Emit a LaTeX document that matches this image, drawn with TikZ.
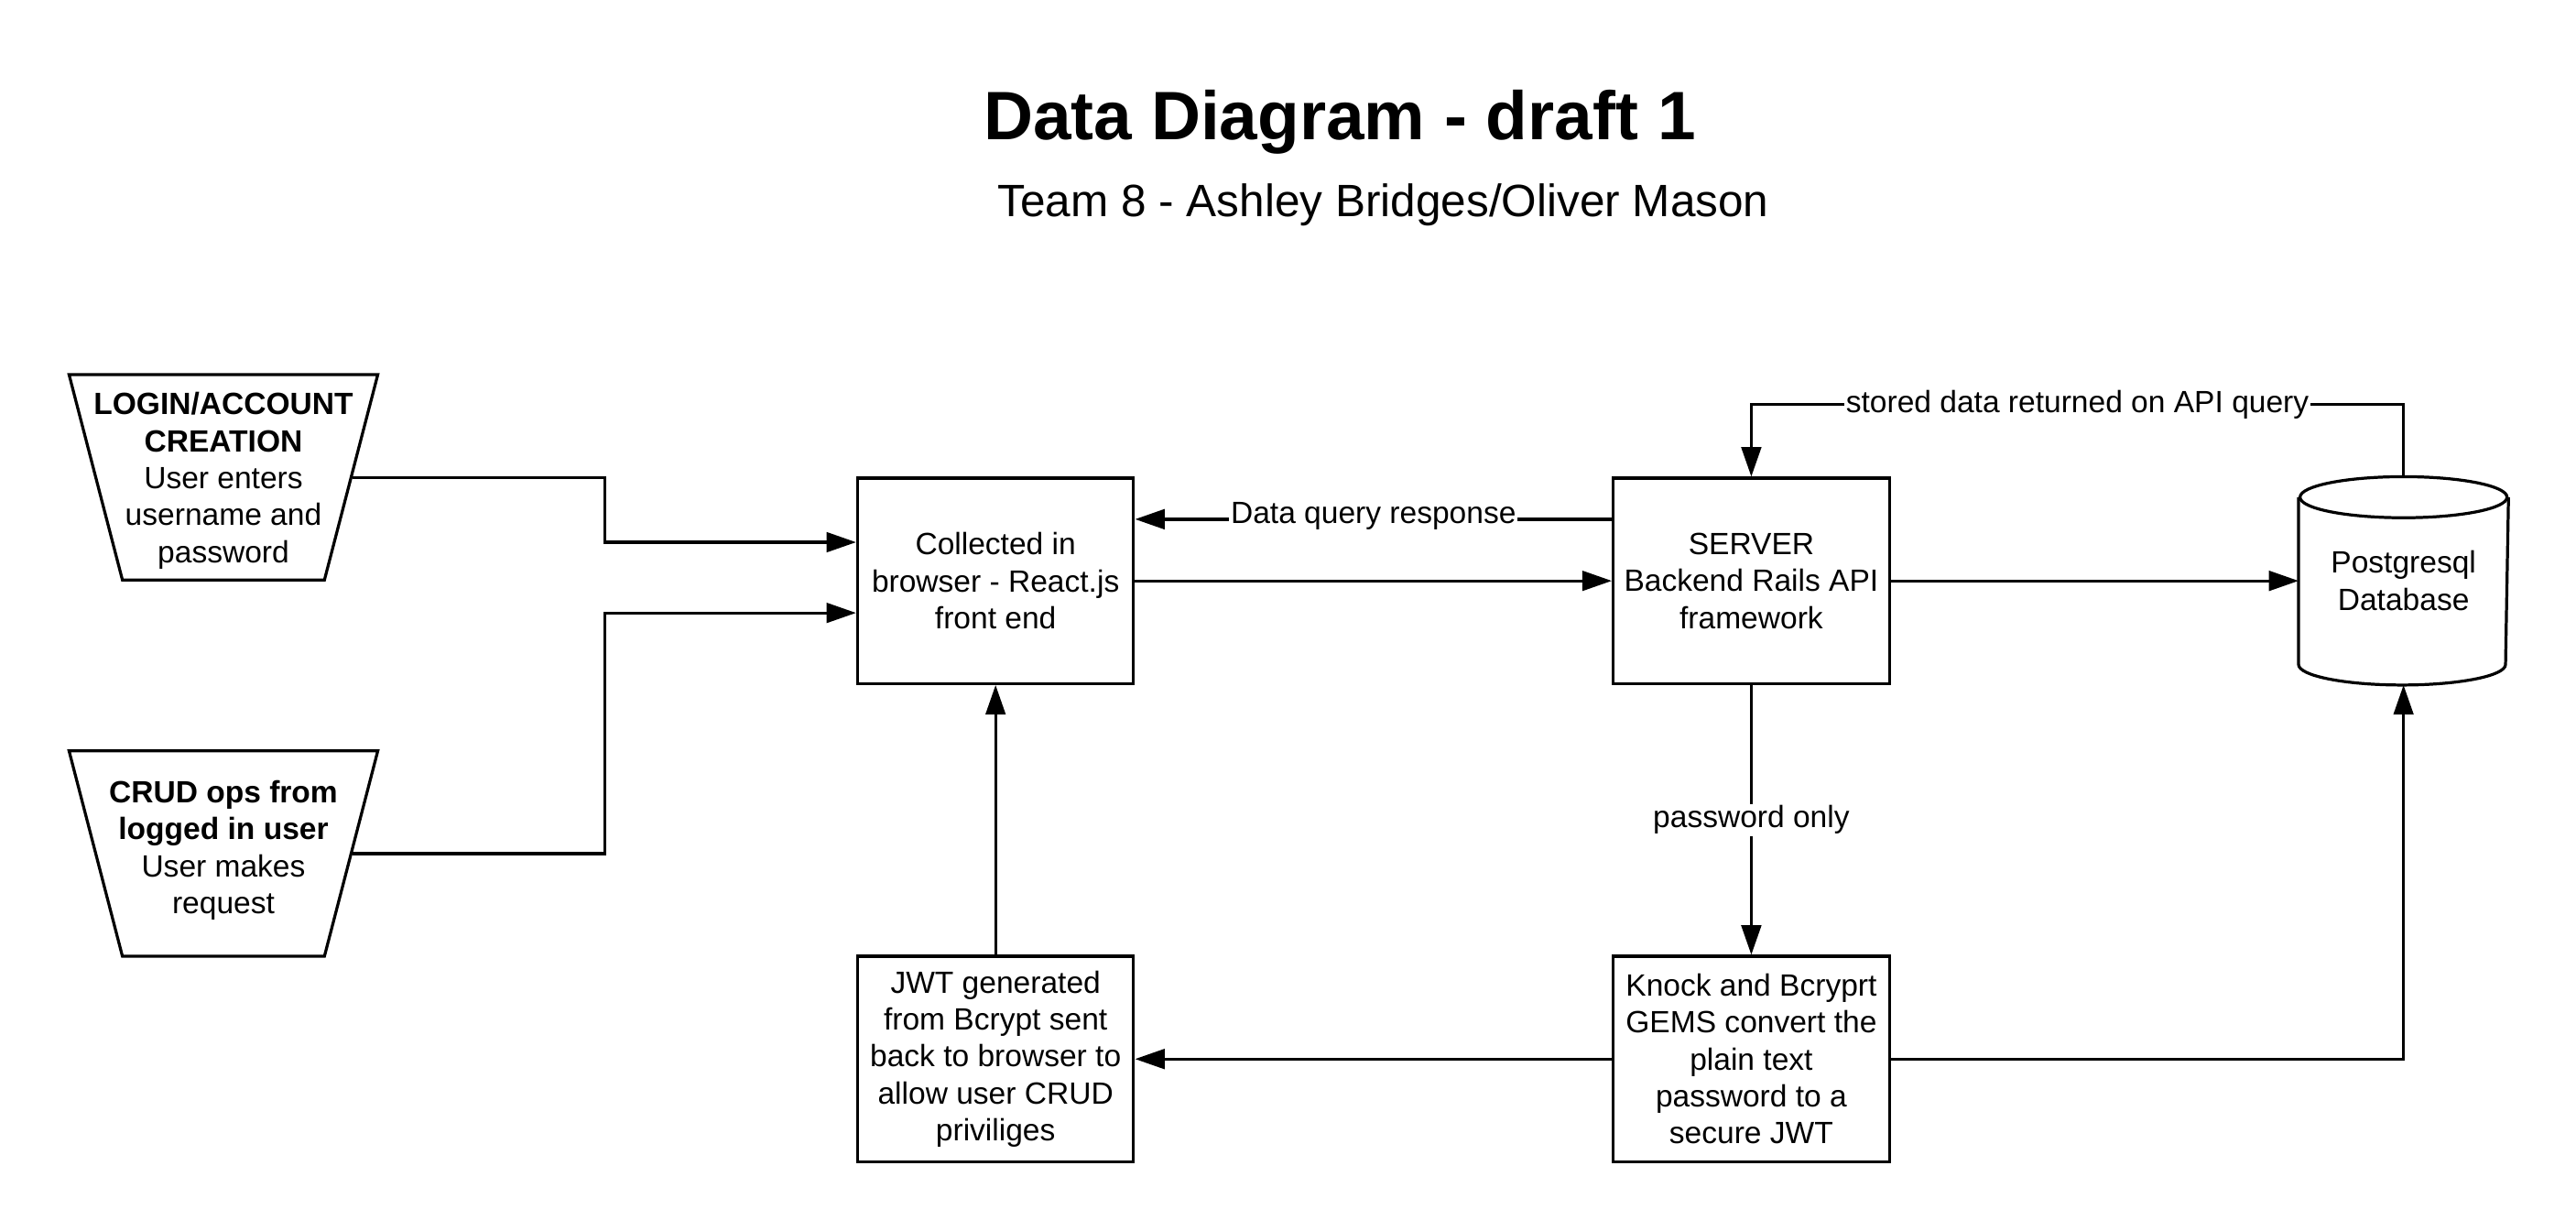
\documentclass[tikz,border=0pt]{standalone}
\usepackage{fontspec}
\setmainfont{Liberation Sans}
\usetikzlibrary{arrows.meta,shapes.geometric,positioning}

\begin{document}
\begin{tikzpicture}[x=1pt, y=1pt, line width=1.8pt,
        font=\fontsize{18.7}{22.5}\selectfont,
        >={Triangle[length=18pt, width=12pt]},
        box/.style={draw, rectangle, minimum width=168, minimum height=125, align=center, inner sep=2pt},
        dbbox/.style={rectangle, minimum width=126, minimum height=125, align=center},
        input/.style={draw, trapezium, shape border rotate=180, trapezium stretches=true,
            trapezium left angle=75.2, trapezium right angle=75.2, minimum width=188, minimum height=125},
        tag/.style={fill=white, inner sep=1pt}]
        \useasboundingbox (0,-4) rectangle (1568,745);

        \node[anchor=base, font=\fontsize{41.7}{50}\selectfont\bfseries] (title) at (815.5,660) {Data Diagram - draft 1};
        \node[anchor=base, font=\fontsize{27.6}{33}\selectfont] (team) at (842,613) {Team 8 - Ashley Bridges/Oliver Mason};

        \node[input, label={[align=center, yshift=-2pt]center:{\textbf{LOGIN/ACCOUNT}\\\textbf{CREATION}\\User enters\\username and\\password}}] at (136,454.5)(login){};
        \node[input, label={[align=center, yshift=2pt]center:{\textbf{CRUD ops from}\\\textbf{logged in user}\\User makes\\request}}] at (136,225.5)(crud){};
        \node[box] at (606,391.5)(browser){Collected in\\browser - React.js\\front end};
        \node[box] at (1066,391.5)(server){SERVER\\Backend Rails API\\framework};
        \node[dbbox] at (1463,391.5)(db){Postgresql\\Database};
        \node[box] at (606,100.5)(jwt){JWT generated\\from Bcrypt sent\\back to browser to\\allow user CRUD\\priviliges};
        \node[box] at (1066,100.5)(knock){Knock and Bcryprt\\GEMS convert the\\plain text\\password to a\\secure JWT};
        \coordinate (knee) at (368,0);

        % database drum
        \draw ([yshift=-12.5pt]db.north west) -- ([yshift=12.5pt]db.south west)
            arc[start angle=180, end angle=360, x radius=63pt, y radius=12.5pt]
            -- ([yshift=-12.5pt]db.north east);
        \draw ([yshift=-12.5pt]db.north) ellipse[x radius=63pt, y radius=12.5pt];

        \draw[->] (login.east) -- (login.east -| knee) |- ([yshift=23.5pt]browser.west);
        \draw[->] (crud.east) -- (crud.east -| knee) |- ([yshift=-19.5pt]browser.west);
        \draw[->] ([yshift=37.5pt]server.west) -- node[tag, yshift=2pt]{Data query response} ([yshift=37.5pt]browser.east);
        \draw[->] (db.north) -- ++(0,44) -| node[tag, pos=0.25]{stored data returned on API query} (server.north);
        \draw[->] (knock.east) -| (db.south);

        \path[->]
            (browser)edge(server)
            (server)edge(db)
            (server)edge node[tag]{password only}(knock)
            (knock)edge(jwt)
            (jwt)edge(browser)
            ;
    \end{tikzpicture}
\end{document}
